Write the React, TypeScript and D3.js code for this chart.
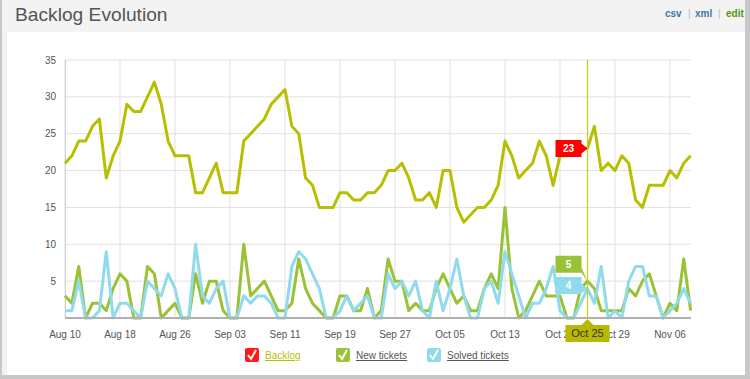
import React from "react";
import * as d3 from "d3";

const startDate = "2012-08-10";
const backlog = [21,22,24,24,26,27,19,22,24,29,28,28,30,32,29,24,22,22,22,17,17,19,21,17,17,17,24,25,26,27,29,30,31,26,25,19,18,15,15,15,17,17,16,16,17,17,18,20,20,21,19,16,16,17,15,20,20,15,13,14,15,15,16,18,24,22,19,20,21,24,22,18,22,22,23,23,23,26,20,21,20,22,21,16,15,18,18,18,20,19,21,22];
const newTickets = [3,2,7,0,2,2,1,4,6,5,0,0,7,6,0,1,2,0,0,6,2,5,5,1,0,0,10,3,4,5,3,1,1,2,8,4,2,1,0,0,3,3,1,1,4,0,1,8,5,5,1,2,1,1,4,6,4,2,3,1,1,4,6,4,15,4,0,1,3,5,3,3,3,0,0,4,5,4,1,1,1,1,4,3,5,6,3,0,2,1,8,1];
const solvedTickets = [1,1,5,0,0,1,9,0,2,2,1,0,5,4,3,6,4,0,0,10,3,2,4,5,0,0,3,2,3,3,2,0,0,7,9,8,6,4,0,0,1,3,1,2,3,0,0,6,4,5,3,5,1,0,5,1,4,8,3,0,0,4,5,2,9,6,3,0,2,2,4,7,1,0,0,2,4,2,7,0,1,0,5,7,7,3,3,0,1,2,4,2];
const yTicks = [5, 10, 15, 20, 25, 30, 35];
const xTickDates = ["2012-08-10","2012-08-18","2012-08-26","2012-09-03","2012-09-11","2012-09-19","2012-09-27","2012-10-05","2012-10-13","2012-10-21","2012-10-29","2012-11-06"];
const hoverDate = "2012-10-25";
const seriesNames = ["Backlog", "New tickets", "Solved tickets"];
const seriesColors = ["#b7bf00", "#99c236", "#8fdbeb"];

const parse = d3.timeParse("%Y-%m-%d");
const fmt = d3.timeFormat("%b %d");
const FONT = "Arial, 'Liberation Sans', sans-serif";

export default function App() {
  const t0 = parse(startDate) as Date;
  const dates = backlog.map((_, i) => d3.timeDay.offset(t0, i));
  const x = d3.scaleTime().domain([dates[0], dates[dates.length - 1]]).range([65, 690.6]);
  const y = d3.scaleLinear().domain([0, 35]).range([318, 60]);
  const line = d3.line<number>().x((_, i) => x(dates[i])).y((v) => y(v)).curve(d3.curveLinear);
  const series = [backlog, newTickets, solvedTickets];
  const hd = parse(hoverDate) as Date;
  const hi = Math.round((+hd - +t0) / 86400000);
  const hx = Math.round(x(hd)) + 0.5;

  const tipBox = (cy: number, py: number, color: string, label: string, key: string) => {
    const w = 26, h = 17;
    const rx = hx - 6;
    const lx = rx - w;
    const top = cy - h / 2, bot = cy + h / 2;
    const pts = [[lx, top], [rx, top], [rx, Math.max(top, Math.min(py, bot) - 5)], [hx, py], [rx, Math.min(bot, Math.max(py, top) + 5)], [rx, bot], [lx, bot]];
    return (
      <g key={key}>
        <polygon points={pts.map((p) => p.join(",")).join(" ")} fill={color} />
        <text x={lx + w / 2} y={cy + 3.5} textAnchor="middle" fill="#fff" fontSize={10} fontWeight="bold" fontFamily={FONT}>{label}</text>
      </g>
    );
  };

  const legendX = [245, 336, 427];

  return (
    <div style={{ position: "absolute", left: 0, top: 0 }}>
      <svg width={750} height={379} style={{ display: "block" }}>
        <rect x={0} y={0} width={750} height={379} fill="#c8c8c8" />
        <rect x={2} y={0} width={743} height={375} fill="#f3f3f3" />
        <rect x={7} y={32} width={738} height={343} fill="#ffffff" />
        <text x={15} y={20.5} fontSize={19.2} fill="#555" fontFamily={FONT}>Backlog Evolution</text>
        <g fontSize={10} fontFamily={FONT} fontWeight="bold">
          <text x={665} y={17} fill="#3b78a8">csv</text>
          <text x={688} y={17} fill="#bbb" fontWeight="normal">|</text>
          <text x={695} y={17} fill="#3b78a8">xml</text>
          <text x={718} y={17} fill="#bbb" fontWeight="normal">|</text>
          <text x={726} y={17} fill="#4e9a06">edit</text>
        </g>
        {yTicks.map((v) => (
          <g key={"y" + v}>
            <line x1={65} x2={691} y1={y(v)} y2={y(v)} stroke="#e0e0e0" strokeWidth={1} />
            <text x={56} y={y(v) + 3.5} textAnchor="end" fontSize={10} fill="#555" fontFamily={FONT}>{v}</text>
          </g>
        ))}
        {xTickDates.map((s) => {
          const d = parse(s) as Date;
          return (
            <g key={s}>
              <line x1={x(d)} x2={x(d)} y1={60} y2={318} stroke="#e0e0e0" strokeWidth={1} />
              <text x={x(d)} y={338} textAnchor="middle" fontSize={10} fill="#555" fontFamily={FONT}>{fmt(d)}</text>
            </g>
          );
        })}
        <line x1={65.5} x2={65.5} y1={60} y2={318} stroke="#d0d0d0" strokeWidth={1} />
        {series.map((s, i) => (
          <path key={"s" + i} d={line(s) || ""} fill="none" stroke={seriesColors[i]} strokeWidth={3} strokeLinejoin="round" />
        ))}
        <line x1={65} x2={691} y1={318} y2={318} stroke="#b0b0b0" strokeWidth={2} />
        <line x1={hx} x2={hx} y1={60} y2={318} stroke="#c9cc1e" strokeWidth={1.2} />
        {tipBox(y(backlog[hi]), y(backlog[hi]), "#ff0000", String(backlog[hi]), "t0")}
        {tipBox(y(newTickets[hi]) - 17, y(newTickets[hi]), seriesColors[1], String(newTickets[hi]), "t1")}
        {tipBox(y(solvedTickets[hi]) - 3, y(solvedTickets[hi]), seriesColors[2], String(solvedTickets[hi]), "t2")}
        <polygon points={`${hx - 22},325 ${hx - 6},325 ${hx},319 ${hx + 6},325 ${hx + 22},325 ${hx + 22},342 ${hx - 22},342`} fill="#b7ba00" />
        <text x={hx} y={337} textAnchor="middle" fontSize={11} fill="#333" fontFamily={FONT}>{fmt(hd)}</text>
        {seriesNames.map((n, i) => (
          <g key={"l" + i}>
            <rect x={legendX[i]} y={348} width={14} height={14} rx={2} fill={i === 0 ? "#ff1a1a" : seriesColors[i]} />
            <path d={`M${legendX[i] + 3},${355} L${legendX[i] + 6},${359} L${legendX[i] + 11},${350}`} fill="none" stroke="#fff" strokeWidth={2} />
            <text x={legendX[i] + 20} y={359} fontSize={10} fill={i === 0 ? "#b7bf00" : "#555"} textDecoration="underline" fontFamily={FONT}>{n}</text>
          </g>
        ))}
      </svg>
    </div>
  );
}
